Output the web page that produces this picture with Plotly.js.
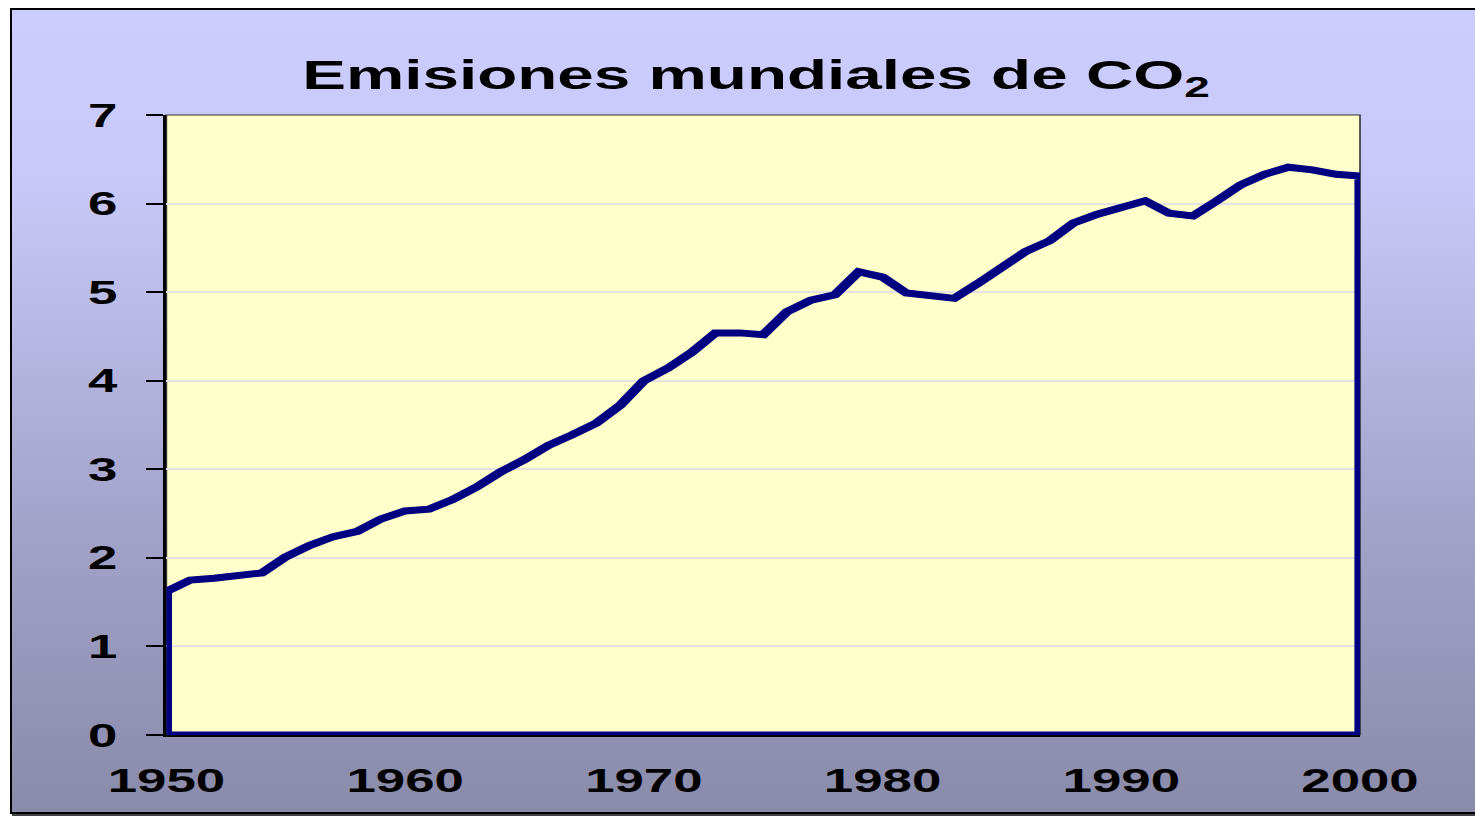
<!DOCTYPE html>
<html>
<head>
<meta charset="utf-8">
<script src="https://cdn.plot.ly/plotly-3.0.1.min.js"></script>
<style>
  html, body { margin: 0; padding: 0; width: 1475px; height: 816px; overflow: hidden; background: #ffffff; }
  #frame {
    position: absolute; left: 10px; top: 8px; width: 1480px; height: 802px;
    border: 2px solid #000000;
    box-shadow: 2px 2px 0 #444444;
    background: linear-gradient(to bottom, #CCCCFF 0%, #C8C8F8 22%, #A6A6CE 60%, #8A8AAA 100%);
  }
  #wrap { position: absolute; left: 0; top: 0; width: 922px; height: 816px; transform: scaleX(1.6); transform-origin: 0 0; }
  #chart { width: 922px; height: 816px; }
</style>
</head>
<body>
<div id="frame"></div>
<div id="wrap"><div id="chart"></div></div>
<script>
// Emisiones mundiales de CO2
const years = [1950,1951,1952,1953,1954,1955,1956,1957,1958,1959,
               1960,1961,1962,1963,1964,1965,1966,1967,1968,1969,
               1970,1971,1972,1973,1974,1975,1976,1977,1978,1979,
               1980,1981,1982,1983,1984,1985,1986,1987,1988,1989,
               1990,1991,1992,1993,1994,1995,1996,1997,1998,1999,2000];
const emissions = [1.62,1.75,1.77,1.80,1.83,2.01,2.14,2.24,2.30,2.44,
                   2.53,2.55,2.66,2.80,2.97,3.11,3.27,3.39,3.52,3.72,
                   4.00,4.14,4.32,4.54,4.54,4.52,4.78,4.91,4.97,5.23,
                   5.17,4.99,4.96,4.93,5.10,5.28,5.46,5.58,5.78,5.88,
                   5.95,6.03,5.89,5.86,6.03,6.21,6.33,6.41,6.38,6.33,6.31];
const xTickVals = [1950,1960,1970,1980,1990,2000];
const xTickText = ['1950','1960','1970','1980','1990','2000'];
const yTickVals = [0,1,2,3,4,5,6,7];
const titleText = 'Emisiones mundiales de CO<sub>2</sub>';

// Area outline (Excel-style area with no fill): close the series down to the baseline
const first = years[0], last = years[years.length - 1];
const outlineX = years.concat([last, first, first]);
const outlineY = emissions.concat([0, 0, emissions[0]]);

const font = { family: '"Liberation Sans", Arial, sans-serif', color: '#000000', weight: 'bold' };

const trace = {
  type: 'scatter', mode: 'lines',
  x: outlineX, y: outlineY,
  line: { color: '#000080', width: 7, shape: 'linear' },
  hoverinfo: 'skip', showlegend: false
};

const layout = {
  width: 922, height: 816,
  margin: { l: 104, r: 72, t: 115, b: 81, pad: 0 },
  paper_bgcolor: 'rgba(0,0,0,0)',
  plot_bgcolor: '#FFFFCC',
  showlegend: false,
  title: {
    text: titleText,
    font: Object.assign({}, font, { size: 41 }),
    xref: 'container', x: 0.5125, xanchor: 'center',
    yref: 'container', y: 0.909, yanchor: 'middle'
  },
  xaxis: {
    range: [1950, 2000],
    tickmode: 'array', tickvals: xTickVals, ticktext: xTickText,
    ticks: '', showgrid: false, zeroline: false,
    showline: true, linecolor: '#000000', linewidth: 2,
    ticklabelstandoff: 15,
    tickfont: Object.assign({}, font, { size: 33 })
  },
  yaxis: {
    range: [0, 7],
    tickmode: 'array', tickvals: yTickVals,
    ticks: 'outside', ticklen: 11, tickwidth: 2, tickcolor: '#000000',
    showgrid: true, gridcolor: '#E2E2E2', gridwidth: 2, zeroline: false,
    showline: true, linecolor: '#000000', linewidth: 2,
    ticklabelstandoff: 11,
    tickfont: Object.assign({}, font, { size: 33 })
  },
  shapes: [{
    type: 'rect', xref: 'paper', yref: 'paper', x0: 0, x1: 1, y0: 0, y1: 1,
    line: { color: '#333333', width: 1 }, fillcolor: 'rgba(0,0,0,0)', layer: 'below'
  }]
};

Plotly.newPlot('chart', [trace], layout, { displayModeBar: false, staticPlot: true });
</script>
</body>
</html>
